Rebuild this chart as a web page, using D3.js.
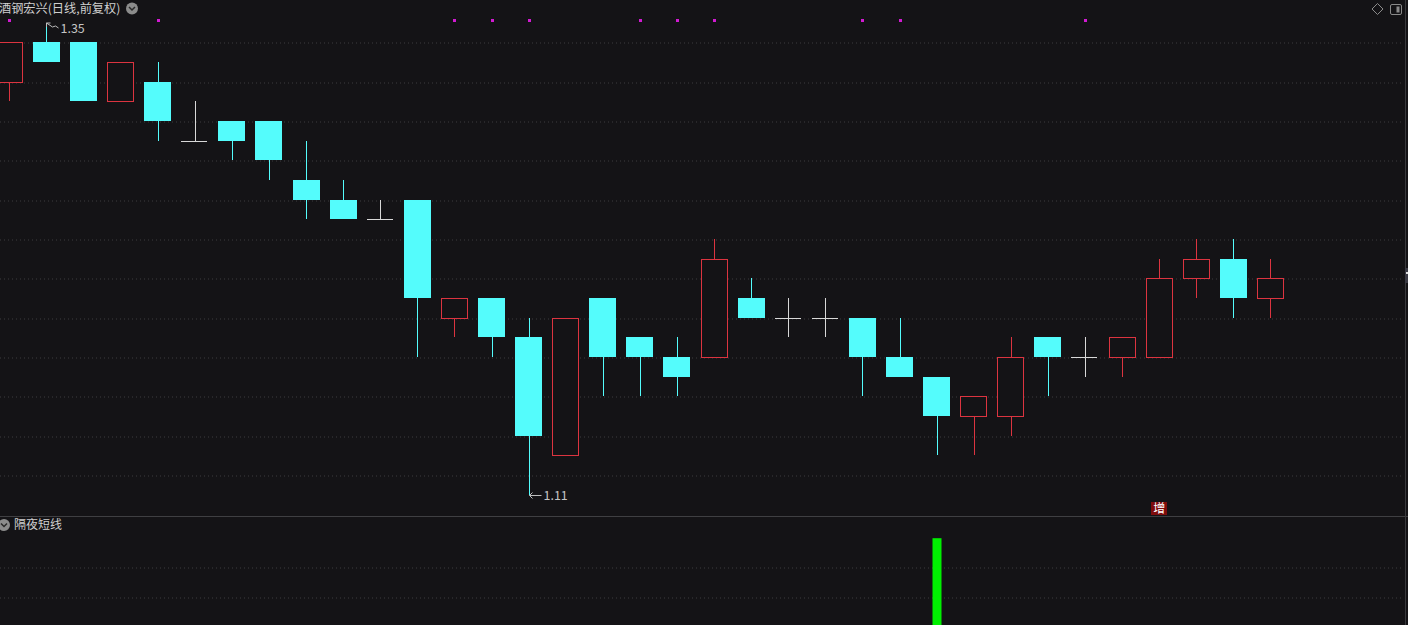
<!DOCTYPE html>
<html><head><meta charset="utf-8">
<script src="https://cdn.jsdelivr.net/npm/d3@7"></script>
<style>
html,body{margin:0;padding:0;background:#141316;overflow:hidden;}
svg{display:block;}
text{font-family:"Noto Sans CJK SC","Noto Sans",sans-serif;}
</style></head>
<body>
<script>
// ---- data ----
const days = d3.range(1, 36).map(d => "D" + d);
const openP  = [1.32,1.34,1.34,1.31,1.32,1.29,1.30,1.30,1.27,1.26,1.25,1.26,1.20,1.21,1.19,1.13,1.21,1.19,1.18,1.18,1.21,1.20,1.20,1.20,1.18,1.17,1.15,1.15,1.19,1.18,1.18,1.18,1.22,1.23,1.21];
const highP  = [1.34,1.35,1.34,1.33,1.33,1.31,1.30,1.30,1.29,1.27,1.26,1.26,1.21,1.21,1.20,1.20,1.21,1.19,1.19,1.24,1.22,1.21,1.21,1.20,1.20,1.17,1.16,1.19,1.19,1.19,1.19,1.23,1.24,1.24,1.23];
const lowP   = [1.31,1.33,1.31,1.31,1.29,1.29,1.28,1.27,1.25,1.25,1.25,1.18,1.19,1.18,1.11,1.13,1.16,1.16,1.16,1.18,1.20,1.19,1.19,1.16,1.17,1.13,1.13,1.14,1.16,1.17,1.17,1.18,1.21,1.20,1.20];
const closeP = [1.34,1.33,1.31,1.33,1.30,1.29,1.29,1.28,1.26,1.25,1.25,1.21,1.21,1.19,1.14,1.20,1.18,1.18,1.17,1.23,1.20,1.20,1.20,1.18,1.17,1.15,1.16,1.18,1.18,1.18,1.19,1.22,1.23,1.21,1.22];
const markerDays = [0,4,12,13,14,17,18,19,23,24,29];
const zengDay = 31;
const overnight = [0,0,0,0,0,0,0,0,0,0,0,0,0,0,0,0,0,0,0,0,0,0,0,0,0,2.96,0,0,0,0,0,0,0,0,0];
const priceTicks = [1.12,1.14,1.16,1.18,1.20,1.22,1.24,1.26,1.28,1.30,1.32,1.34];
const lowerTicks = [1,2];
const titleText = "酒钢宏兴(日线,前复权)";
const lowerTitle = "隔夜短线";
const highLabel = "1.35", lowLabel = "1.11";

// ---- layout ----
const W = 1408, H = 625;
const UP = "#dc3440", DOWN = "#54fcfc", FLAT = "#d8d8d8", BG = "#141316";
const svg = d3.select("body").append("svg").attr("width", W).attr("height", H);
svg.append("rect").attr("width", W).attr("height", H).attr("fill", BG);

const STEP = 37.09;
const x = d3.scaleBand().domain(days).range([-9.2, -9.2 + 35 * STEP]).paddingInner(0.272).paddingOuter(0.136);
const cx = i => x(days[i]) + x.bandwidth() / 2;
const y = d3.scaleLinear().domain([1.12, 1.34]).range([474.9, 42.2]);
const y2 = d3.scaleLinear().domain([0, 3]).range([627, 537]);
const py = v => Math.round(y(v));

// grid (upper)
const gAxis = svg.append("g")
  .call(d3.axisRight(y).tickValues(priceTicks).tickSize(1402).tickFormat(""));
gAxis.select(".domain").remove();
gAxis.selectAll("line").attr("stroke", "#3c3c3e").attr("stroke-dasharray", "1,3")
  .attr("transform", d => `translate(0,${Math.round(y(d)) - y(d) + 0.5})`);

// grid (lower)
const gAxis2 = svg.append("g")
  .call(d3.axisRight(y2).tickValues(lowerTicks).tickSize(1402).tickFormat(""));
gAxis2.select(".domain").remove();
gAxis2.selectAll("line").attr("stroke", "#3c3c3e").attr("stroke-dasharray", "1,3")
  .attr("transform", d => `translate(0,${Math.round(y2(d)) - y2(d) + 0.5})`);

// separator + right border
svg.append("line").attr("x1", 0).attr("x2", W).attr("y1", 516.5).attr("y2", 516.5).attr("stroke", "#3f3f42");
svg.append("line").attr("x1", 1405.5).attr("x2", 1405.5).attr("y1", 0).attr("y2", H).attr("stroke", "#3a3a3d");
svg.append("rect").attr("x", 1405).attr("y", 268).attr("width", 4).attr("height", 15).attr("fill", "#3a3a44");
svg.append("rect").attr("x", 1406).attr("y", 272).attr("width", 2).attr("height", 2).attr("fill", "#ddd");

// candles
const bw = Math.round(x.bandwidth());
const candles = svg.append("g").attr("shape-rendering", "crispEdges");
days.forEach((d, i) => {
  const o = openP[i], c = closeP[i], h = highP[i], l = lowP[i];
  const xc = Math.round(cx(i)) + 0.5;
  const left = Math.round(cx(i) - bw / 2);
  const yo = py(o), yc = py(c), yh = py(h), yl = py(l);
  if (o === c) {
    candles.append("line").attr("x1", xc).attr("x2", xc).attr("y1", yh).attr("y2", yl).attr("stroke", FLAT);
    candles.append("line").attr("x1", left).attr("x2", left + bw - 1).attr("y1", yo + 0.5).attr("y2", yo + 0.5).attr("stroke", FLAT);
  } else if (c > o) {
    const top = yc, bot = yo;
    if (yh < top) candles.append("line").attr("x1", xc).attr("x2", xc).attr("y1", yh).attr("y2", top).attr("stroke", UP);
    if (yl > bot) candles.append("line").attr("x1", xc).attr("x2", xc).attr("y1", bot).attr("y2", yl).attr("stroke", UP);
    candles.append("rect").attr("x", left + 0.5).attr("y", top + 0.5).attr("width", bw - 1).attr("height", bot - top)
      .attr("fill", BG).attr("stroke", UP).attr("stroke-width", 1);
  } else {
    candles.append("line").attr("x1", xc).attr("x2", xc).attr("y1", yh).attr("y2", yl).attr("stroke", DOWN);
    candles.append("rect").attr("x", left).attr("y", yo).attr("width", bw).attr("height", yc - yo).attr("fill", DOWN);
  }
});

// magenta markers
svg.append("g").selectAll("rect").data(markerDays).join("rect")
  .attr("x", i => Math.round(cx(i)) - 1).attr("y", 19).attr("width", 3).attr("height", 3).attr("fill", "#d21ad2");

// high / low labels
const hi = 1, lo = 14;
const hx = Math.round(cx(hi)) + 0.5, hy = py(highP[hi]);
svg.append("path").attr("d", `M${hx},${hy} L${hx + 4},${hy} M${hx},${hy} L${hx},${hy + 4} M${hx},${hy} L${hx + 6},${hy + 4} L${hx + 9},${hy + 3} L${hx + 12},${hy + 5}`)
  .attr("stroke", "#bdbdbd").attr("fill", "none");
svg.append("text").attr("x", hx + 14).attr("y", hy + 10).attr("fill", "#c4c4c4").attr("font-size", 12.5).text(highLabel);
const lx = Math.round(cx(lo)) + 0.5, ly = py(lowP[lo]) + 0.5;
svg.append("path").attr("d", `M${lx},${ly} L${lx + 12},${ly} M${lx},${ly} L${lx + 3},${ly - 3} M${lx},${ly} L${lx + 3},${ly + 3}`)
  .attr("stroke", "#bdbdbd").attr("fill", "none");
svg.append("text").attr("x", lx + 14).attr("y", ly + 4.5).attr("fill", "#c4c4c4").attr("font-size", 12.5).text(lowLabel);

// 增 marker
const zx = cx(zengDay);
svg.append("rect").attr("x", Math.round(zx) - 8).attr("y", 502).attr("width", 16).attr("height", 13).attr("fill", "#7e0c0c");
svg.append("text").attr("x", zx).attr("y", 513).attr("text-anchor", "middle").attr("fill", "#ffffff").attr("font-size", 12).text("增");

// lower indicator bars
svg.append("g").selectAll("rect").data(overnight.map((v, i) => ({v, i})).filter(d => d.v > 0)).join("rect")
  .attr("x", d => Math.round(cx(d.i)) - 4.5).attr("y", d => y2(d.v)).attr("width", 9).attr("height", d => y2(0) - y2(d.v))
  .attr("fill", "#00f000");

// titles
svg.append("text").attr("x", -1).attr("y", 13).attr("fill", "#cfcfcf").attr("font-size", 12.2).text(titleText);
function chevIcon(cxp, cyp) {
  svg.append("circle").attr("cx", cxp).attr("cy", cyp).attr("r", 6).attr("fill", "#8c8c8c");
  svg.append("path").attr("d", `M${cxp - 3},${cyp - 1.5} L${cxp},${cyp + 1.5} L${cxp + 3},${cyp - 1.5}`)
    .attr("stroke", "#2a2a2a").attr("stroke-width", 1.5).attr("fill", "none");
}
chevIcon(132, 8.5);
chevIcon(4, 525);
svg.append("text").attr("x", 14).attr("y", 529).attr("fill", "#cfcfcf").attr("font-size", 12).text(lowerTitle);

// top-right icons
svg.append("path").attr("d", "M1377.5,3.5 L1383,9 L1377.5,14.5 L1372,9 Z").attr("fill", "none").attr("stroke", "#8a8a8a");
svg.append("rect").attr("x", 1390.5).attr("y", 4.5).attr("width", 11).attr("height", 10).attr("rx", 1.5).attr("fill", "none").attr("stroke", "#8a8a8a");
svg.append("rect").attr("x", 1396.5).attr("y", 6.5).attr("width", 3).attr("height", 6).attr("fill", "#8a8a8a");
</script>
</body></html>
